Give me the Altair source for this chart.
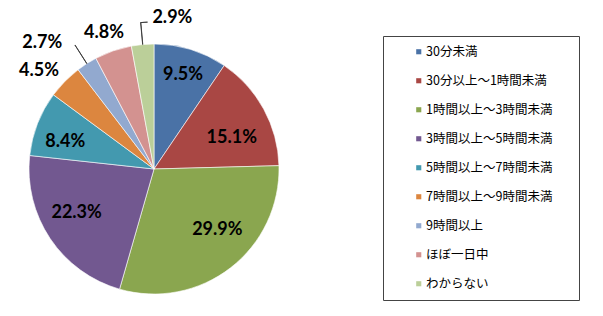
import altair as alt
import pandas as pd

categories = ["30分未満", "30分以上〜1時間未満", "1時間以上〜3時間未満", "3時間以上〜5時間未満",
              "5時間以上〜7時間未満", "7時間以上〜9時間未満", "9時間以上", "ほぼ一日中", "わからない"]
values = [9.5, 15.1, 29.9, 22.3, 8.4, 4.5, 2.7, 4.8, 2.9]
labels = ["9.5%", "15.1%", "29.9%", "22.3%", "8.4%", "4.5%", "2.7%", "4.8%", "2.9%"]
colors = ["#4A72A6", "#A94744", "#8AA64F", "#725890", "#4399AF", "#DC863F", "#92A9CF", "#D39290", "#BBCF99"]

total = sum(values)
df = pd.DataFrame({"cat": categories, "value": values, "label": labels,
                   "order": list(range(len(values)))})

# label placement style: (radius, dx, dy)
label_style = {
    "9.5%": (92, 2, -6), "15.1%": (92, -3, 13), "29.9%": (92, 7, -12), "22.3%": (92, -1, -7),
    "8.4%": (92, -3, 6), "4.5%": (150, -8, 7), "2.7%": (150, -31, 0), "4.8%": (150, -1, 6),
    "2.9%": (150, 32, -2),
}
leader_labels = ["2.7%", "2.9%"]

base = alt.Chart(df).transform_window(
    cum="sum(value)", sort=[alt.SortField("order")], frame=[None, 0]
).transform_calculate(
    start="datum.cum - datum.value",
    mid="datum.cum - datum.value / 2",
    mid2="datum.cum - datum.value / 2 + 0.02",
    stub2="datum.cum - datum.value / 2 + 0.75",
)

theta_scale = alt.Scale(domain=[0, total])

pie = base.mark_arc(stroke="white", strokeWidth=0.6).encode(
    theta=alt.Theta("start:Q", scale=theta_scale),
    theta2="cum:Q",
    color=alt.Color("cat:N", scale=alt.Scale(domain=categories, range=colors),
                    legend=alt.Legend(
                        orient="none", legendX=354, legendY=-8,
                        title="\u3000", titleOrient="right", titleOpacity=0, titlePadding=17,
                        strokeColor="#444444", padding=9.5, rowPadding=16,
                        symbolType="square", symbolSize=26, symbolStrokeWidth=0,
                        symbolOffset=20, labelOffset=1,
                        labelFont="Noto Sans CJK JP", labelFontSize=12.5, labelColor="black",
                        labelLimit=300)),
)

layers = [pie]
for lab, (r, dx, dy) in label_style.items():
    layers.append(
        base.transform_filter(alt.datum.label == lab).mark_text(
            radius=r, dx=dx, dy=dy, font="Lato", fontWeight="bold", fontSize=18, color="black"
        ).encode(theta=alt.Theta("mid:Q", scale=theta_scale), text="label:N")
    )

leaders = base.transform_filter(
    alt.FieldOneOfPredicate(field="label", oneOf=leader_labels)
).mark_arc(radius=125, radius2=147, stroke="#333333", strokeWidth=0.8, fill="#333333").encode(
    theta=alt.Theta("mid:Q", scale=theta_scale), theta2="mid2:Q"
)
stub = base.transform_filter(alt.datum.label == "2.9%").mark_arc(
    radius=147, radius2=147, stroke="#333333", strokeWidth=0.8, fillOpacity=0
).encode(theta=alt.Theta("mid:Q", scale=theta_scale), theta2="stub2:Q")
layers += [leaders, stub]

chart = alt.layer(*layers).properties(
    width=250, height=250,
    padding={"left": 29, "top": 44, "right": 324, "bottom": 22},
    autosize=alt.AutoSizeParams(type="none"),
).configure_view(stroke=None).configure(background="white")

chart.save("out.html", embed_options={"renderer": "svg", "actions": False})
